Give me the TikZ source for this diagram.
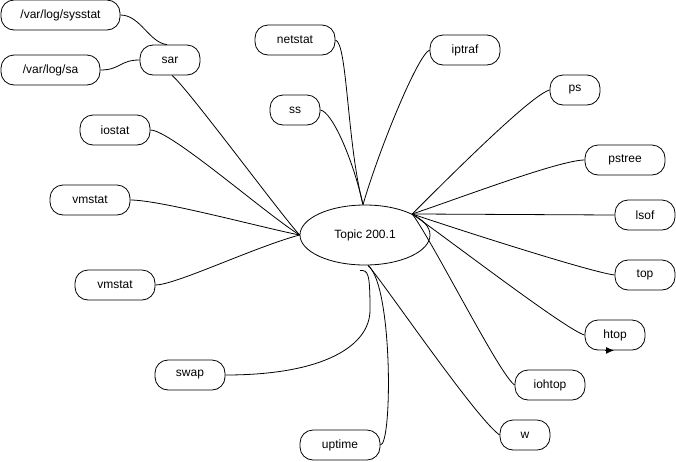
\documentclass[tikz,border=0pt]{standalone}
\usepackage{fontspec}
\setmainfont{Liberation Sans}
\usetikzlibrary{arrows.meta,shapes.geometric}
\newcommand{\boxh}{30pt}
\newcommand{\linew}{0.8pt}
\newcommand{\txt}{\fontsize{12pt}{14pt}\selectfont}

\begin{document}
\begin{tikzpicture}[x=1pt,y=-1pt,line width=\linew,
  tool/.style={draw,fill=white,rounded corners=13pt,minimum height=\boxh,inner sep=0pt,font=\txt},
  topic/.style={draw,ellipse,minimum width=130pt,minimum height=60pt,inner sep=0pt,font=\txt}]
\useasboundingbox (0,0) rectangle (676,461);
\node[topic] (topic) at (365,235) {Topic 200.1};
%left
\node[tool] (sysstat) at (60.5,15) [minimum width=119pt] {/var/log/sysstat};
\node[tool] (sa) at (50.5,70) [minimum width=99pt] {/var/log/sa};
\node[tool] (sar) at (170,60) [minimum width=60pt] {sar};
\node[tool] (iostat) at (115,130) [minimum width=70pt] {iostat};
\node[tool] (vmstat) at (90,200) [minimum width=80pt] {vmstat};
\node[tool] (vmstatb) at (115,285) [minimum width=80pt] {vmstat};
\node[tool] (swap) at (190,375) [minimum width=70pt] {swap};
%top
\node[tool] (netstat) at (295,40) [minimum width=80pt] {netstat};
\node[tool] (ss) at (295,110) [minimum width=50pt] {ss};
\node[tool] (iptraf) at (465,50) [minimum width=70pt] {iptraf};
%right
\node[tool] (ps) at (575,90) [minimum width=50pt] {ps};
\node[tool] (pstree) at (625,160) [minimum width=80pt] {pstree};
\node[tool] (lsof) at (645,215) [minimum width=60pt] {lsof};
\node[tool] (top) at (645,275) [minimum width=60pt] {top};
\node[tool] (htop) at (615,335) [minimum width=60pt] {htop};
\node[tool] (iohtop) at (550,385) [minimum width=70pt] {iohtop};
\node[tool] (w) at (525,435) [minimum width=50pt] {w};
\node[tool] (uptime) at (340,445) [minimum width=80pt] {uptime};
%sar
\draw (sysstat.east) .. controls +(20,0) and +(-18,-2) .. ([xshift=-3pt]sar.north);
\draw (sa.east) .. controls +(20,0) and +(-20,0) .. (sar.west);
\draw ([xshift=2pt]sar.south) .. controls +(15,12) and +(-20,-22) .. (topic.west);
%left
\draw (iostat.east) .. controls +(20,0) and +(-35,-22) .. (topic.west);
\draw (vmstat.east) .. controls +(30,0) and +(-40,-8) .. (topic.west);
\draw (vmstatb.east) .. controls +(20,0) and +(-45,12) .. (topic.west);
%top
\draw (netstat.east) .. controls +(12,2) and +(-16,-60) .. ([xshift=-2pt]topic.north);
\draw (ss.east) .. controls +(12,2) and +(-10,-45) .. ([xshift=-2pt]topic.north);
\draw (iptraf.west) .. controls +(-12,5) and +(16,-55) .. ([xshift=-2pt]topic.north);
%right
\draw (ps.west) .. controls +(-18,5) and +(45,-45) .. (topic.24);
\draw (pstree.west) .. controls +(-25,0) and +(45,-15) .. (topic.24);
\draw (lsof.west) -- (topic.24);
\draw (top.west) .. controls +(-25,-3) and +(35,12) .. (topic.24);
\draw (htop.west) .. controls +(-18,-5) and +(45,32) .. (topic.24);
\draw (iohtop.west) .. controls +(-15,-10) and +(22,30) .. (topic.24);
%bottom
\draw ([xshift=3pt]topic.south) .. controls +(12,12) and +(-25,-18) .. (w.west);
\draw ([xshift=3pt]topic.south) .. controls +(25,20) and +(12,0) .. (uptime.east);
\draw (swap.east) .. controls +(100,0) and +(0,35) .. (370,310) .. controls +(0,-38) and +(8,0) .. ([xshift=-5pt,yshift=-5pt]topic.south);
\draw[-{Latex[length=8pt,width=7pt]}] ([xshift=-10pt]htop.south) -- ([xshift=-1pt]htop.south);
\end{tikzpicture}
\end{document}
